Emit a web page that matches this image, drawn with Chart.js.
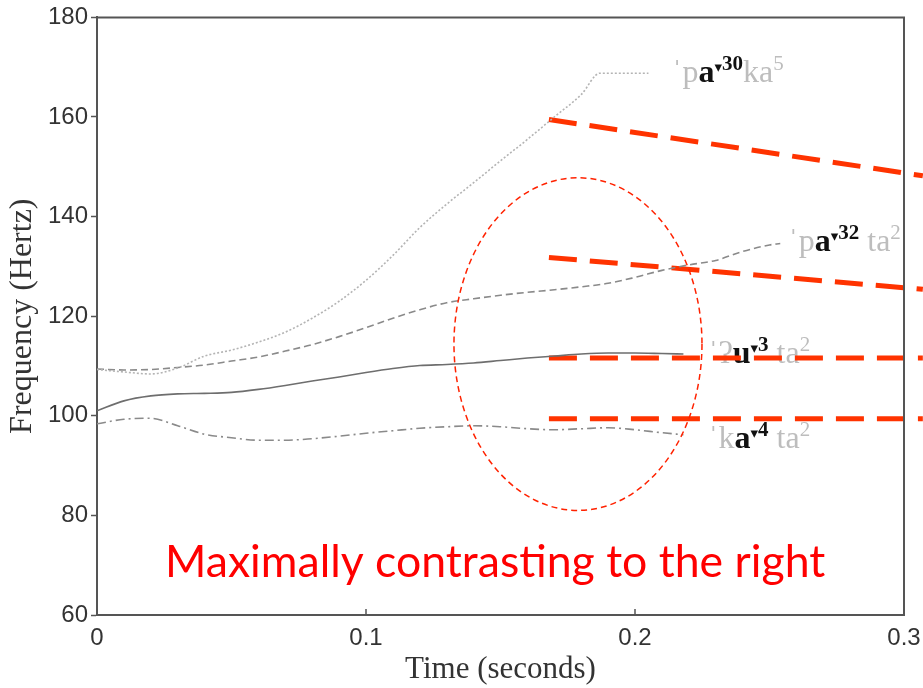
<!DOCTYPE html>
<html>
<head>
<meta charset="utf-8">
<script src="https://cdn.jsdelivr.net/npm/chart.js@4.4.0/dist/chart.umd.min.js"></script>
<style>
  html, body { margin: 0; padding: 0; background: #fff; }
  #wrap { width: 923px; height: 688px; }
</style>
</head>
<body>
<div id="wrap"><canvas id="pitch"></canvas></div>
<script>
// time (s) and F0 (Hz)
const tPa30 = [0, 0.01, 0.02, 0.03, 0.04, 0.05, 0.06, 0.07, 0.08, 0.09, 0.10, 0.11, 0.12, 0.13, 0.14, 0.15, 0.16, 0.17, 0.18, 0.187, 0.205];
const fPa30 = [109.3, 108.8, 108.4, 109.6, 112.0, 113.2, 114.8, 116.8, 119.6, 123.0, 127.2, 132.2, 137.8, 142.5, 146.8, 151.2, 155.5, 160.0, 164.5, 168.8, 168.8];

const tPa32 = [0, 0.01, 0.02, 0.03, 0.04, 0.05, 0.06, 0.07, 0.08, 0.09, 0.10, 0.11, 0.12, 0.13, 0.14, 0.15, 0.16, 0.17, 0.18, 0.19, 0.20, 0.21, 0.22, 0.23, 0.24, 0.25, 0.254];
const fPa32 = [109.4, 109.2, 109.3, 109.7, 110.2, 111.0, 111.8, 113.0, 114.3, 115.9, 117.7, 119.6, 121.3, 122.7, 123.5, 124.2, 124.8, 125.3, 125.9, 126.6, 127.8, 129.2, 130.3, 131.2, 133.0, 134.3, 134.6];

const tU3 = [0, 0.01, 0.02, 0.03, 0.04, 0.05, 0.06, 0.07, 0.08, 0.09, 0.10, 0.11, 0.12, 0.13, 0.14, 0.15, 0.16, 0.17, 0.18, 0.19, 0.20, 0.21, 0.218];
const fU3 = [101.0, 103.0, 104.0, 104.4, 104.5, 104.7, 105.3, 106.1, 107.0, 107.8, 108.7, 109.5, 110.1, 110.3, 110.6, 111.1, 111.6, 112.0, 112.4, 112.6, 112.6, 112.5, 112.4];

const tKa4 = [0, 0.01, 0.02, 0.03, 0.04, 0.05, 0.06, 0.07, 0.08, 0.09, 0.10, 0.11, 0.12, 0.13, 0.14, 0.15, 0.16, 0.17, 0.18, 0.19, 0.20, 0.21, 0.218];
const fKa4 = [98.4, 99.3, 99.5, 98.0, 96.3, 95.6, 95.1, 95.1, 95.4, 95.9, 96.5, 97.0, 97.5, 97.8, 98.0, 97.8, 97.4, 97.2, 97.4, 97.6, 97.2, 96.6, 96.2];

// red dashed "contrast" lines, start/end in (s, Hz)
const contrastT = [[0.168, 0.307], [0.168, 0.307], [0.168, 0.307], [0.168, 0.307]];
const contrastF = [[159.5, 148.2], [131.8, 125.4], [111.6, 111.6], [99.4, 99.4]];

const xTicks = [0, 0.1, 0.2, 0.3];
const yTicks = [60, 80, 100, 120, 140, 160, 180];

function pts(ts, fs) {
  return ts.map((t, i) => ({x: t, y: fs[i]}));
}

const grayLine = (ts, fs, color, dash) => ({
  data: pts(ts, fs),
  borderColor: color,
  borderWidth: 1.6,
  borderDash: dash,
  pointRadius: 0,
  cubicInterpolationMode: 'monotone',
  fill: false
});

const datasets = [
  grayLine(tPa30, fPa30, '#b4b4b4', [2, 2]),
  grayLine(tPa32, fPa32, '#8a8a8a', [7, 4]),
  grayLine(tU3, fU3, '#6e6e6e', []),
  grayLine(tKa4, fKa4, '#8a8a8a', [9, 4, 2, 4])
];
contrastT.forEach((ts, i) => {
  datasets.push({
    data: pts(ts, contrastF[i]),
    borderColor: '#ff3300',
    borderWidth: 5,
    borderDash: [28, 13],
    pointRadius: 0,
    clip: false,
    fill: false
  });
});

// syllable labels: [text, colour, bold, 0 normal / 1 superscript / 2 tone mark]
const G = '#bdbdbd', K = '#111';
const labels = [
  {t: 0.2137, f: 167, parts: [['ˈp', G, 0, 0], ['a', K, 1, 0], ['▾', K, 1, 2], ['30', K, 1, 1], ['ka', G, 0, 0], ['5', G, 0, 1]]},
  {t: 0.2569, f: 133, parts: [['ˈp', G, 0, 0], ['a', K, 1, 0], ['▾', K, 1, 2], ['32', K, 1, 1], [' ta', G, 0, 0], ['2', G, 0, 1]]},
  {t: 0.2271, f: 110.6, parts: [['ˈʔ', G, 0, 0], ['u', K, 1, 0], ['▾', K, 1, 2], ['3', K, 1, 1], [' ta', G, 0, 0], ['2', G, 0, 1]]},
  {t: 0.2271, f: 93.6, parts: [['ˈk', G, 0, 0], ['a', K, 1, 0], ['▾', K, 1, 2], ['4', K, 1, 1], [' ta', G, 0, 0], ['2', G, 0, 1]]}
];

const overlay = {
  id: 'overlay',
  beforeDatasetsDraw(chart) {
    const {ctx, scales: {x, y}} = chart;
    ctx.save();
    ctx.textBaseline = 'alphabetic';
    labels.forEach(l => {
      let px = x.getPixelForValue(l.t);
      const base = y.getPixelForValue(l.f);
      l.parts.forEach(([s, col, bold, sup]) => {
        const size = sup === 1 ? 21 : (sup === 2 ? 15 : 32);
        ctx.font = (bold ? 'bold ' : '') + size + 'px "Liberation Serif", "DejaVu Serif", serif';
        ctx.fillStyle = col;
        const dy = sup === 1 ? -12 : (sup === 2 ? -10 : 0);
        ctx.fillText(s, px, base + dy);
        px += ctx.measureText(s).width;
      });
    });
    ctx.restore();
  },
  afterDatasetsDraw(chart) {
    const {ctx, chartArea: a, scales: {x, y}} = chart;
    ctx.save();
    // frame top and right
    ctx.strokeStyle = '#555';
    ctx.lineWidth = 2;
    ctx.beginPath();
    ctx.moveTo(a.left, a.top);
    ctx.lineTo(a.right, a.top);
    ctx.lineTo(a.right, a.bottom);
    ctx.stroke();
    // inward x ticks
    ctx.lineWidth = 1.5;
    xTicks.forEach(v => {
      const px = x.getPixelForValue(v);
      ctx.beginPath();
      ctx.moveTo(px, a.bottom);
      ctx.lineTo(px, a.bottom - 6);
      ctx.stroke();
    });
    // ellipse
    const cx = x.getPixelForValue(0.1788), cy = y.getPixelForValue(114.4);
    const rx = x.getPixelForValue(0.1788 + 0.0461) - cx;
    const ry = cy - y.getPixelForValue(114.4 + 33.4);
    ctx.strokeStyle = '#ff2200';
    ctx.lineWidth = 1.5;
    ctx.setLineDash([6, 4]);
    ctx.beginPath();
    ctx.ellipse(cx, cy, rx, ry, 0, 0, Math.PI * 2);
    ctx.stroke();
    ctx.setLineDash([]);
    // caption
    const msg = 'Maximally contrasting to the right';
    ctx.font = '40px Lato, "Open Sans", sans-serif';
    const size = 40 * 660 / ctx.measureText(msg).width;
    ctx.font = size.toFixed(1) + 'px Lato, "Open Sans", sans-serif';
    ctx.fillStyle = '#ff0000';
    ctx.textAlign = 'center';
    ctx.fillText(msg, x.getPixelForValue(0.148), y.getPixelForValue(67.6));
    ctx.restore();
  }
};

new Chart(document.getElementById('pitch'), {
  type: 'line',
  data: {datasets},
  plugins: [overlay],
  options: {
    responsive: true,
    maintainAspectRatio: false,
    animation: false,
    layout: {padding: {top: 15, right: 19, left: 0, bottom: 0}},
    plugins: {legend: {display: false}, tooltip: {enabled: false}},
    scales: {
      x: {
        type: 'linear',
        min: 0,
        max: 0.3,
        afterBuildTicks: s => { s.ticks = xTicks.map(v => ({value: v})); },
        afterFit: s => { s.height = 73; s.paddingLeft = 0; s.paddingRight = 0; },
        ticks: {
          callback: v => v === 0 ? '0' : (Math.round(v * 10) / 10).toFixed(1),
          font: {family: '"Liberation Sans", Arial, sans-serif', size: 24},
          color: '#333',
          padding: 9,
          maxRotation: 0
        },
        grid: {drawOnChartArea: false, drawTicks: false},
        border: {color: '#555', width: 2},
        title: {
          display: true,
          text: 'Time (seconds)',
          font: {family: '"Liberation Serif", "Times New Roman", serif', size: 31},
          color: '#333',
          padding: {top: 0, bottom: 0}
        }
      },
      y: {
        min: 60,
        max: 180,
        afterBuildTicks: s => { s.ticks = yTicks.map(v => ({value: v})); },
        afterFit: s => { s.width = 97; },
        ticks: {
          font: {family: '"Liberation Sans", Arial, sans-serif', size: 24},
          color: '#333',
          padding: 3
        },
        grid: {drawOnChartArea: false, tickLength: 6, tickColor: '#555', tickWidth: 1.5},
        border: {color: '#555', width: 2},
        title: {
          display: true,
          text: 'Frequency (Hertz)',
          font: {family: '"Liberation Serif", "Times New Roman", serif', size: 32},
          color: '#333',
          padding: {top: 3, bottom: 0}
        }
      }
    }
  }
});
</script>
</body>
</html>
